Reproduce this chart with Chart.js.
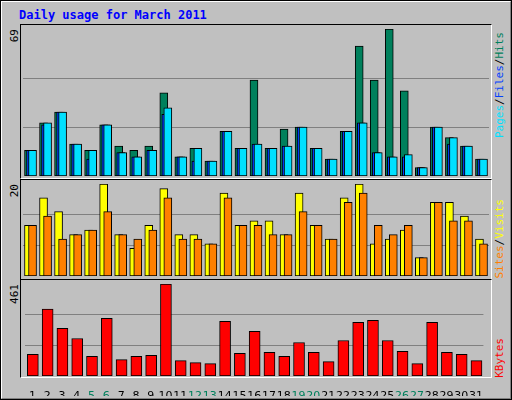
<!DOCTYPE html>
<html><head><meta charset="utf-8">
<script src="https://cdn.jsdelivr.net/npm/chart.js@4/dist/chart.umd.min.js"></script>
<style>
body{margin:0;width:512px;height:400px;background:#c0c0c0;position:relative;overflow:hidden;font-family:"DejaVu Sans Mono",monospace;}
#frame{position:absolute;left:0;top:0;width:508px;height:396px;border-top:2px solid #fff;border-left:2px solid #fff;border-right:2px solid #808080;border-bottom:2px solid #808080;box-sizing:content-box;outline:1px solid #000;outline-offset:-1px}
.panel{position:absolute;left:20px;width:470px;border-top:1px solid #000;border-left:1px solid #000;border-right:1px solid #fff;border-bottom:1px solid #fff;}
.box{position:absolute;}
.vt{position:absolute;writing-mode:vertical-rl;transform:rotate(180deg);font-size:11px;white-space:nowrap;line-height:11px}
#title{position:absolute;left:19px;top:8px;color:#0000ff;font-weight:bold;font-size:12px}
</style></head><body>
<div id="frame"></div>
<div id="title">Daily usage for March 2011</div>
<div class="panel" style="top:24px;height:153px"></div>
<div class="panel" style="top:179px;height:99px"></div>
<div class="panel" style="top:279px;height:97px"></div>
<div class="box" style="left:23px;top:29px;width:466px;height:147px"><canvas id="c1"></canvas></div>
<div class="box" style="left:23px;top:184px;width:466px;height:92px"><canvas id="c2"></canvas></div>
<div class="box" style="left:23px;top:284px;width:466px;height:112px"><canvas id="c3"></canvas></div>
<div class="vt" style="left:9px;top:29px">69</div>
<div class="vt" style="left:9px;top:184px">20</div>
<div class="vt" style="left:9px;top:284px">461</div>
<div class="vt" style="left:494px;bottom:262px"><span style="color:#00e0ff">Pages</span>/<span style="color:#0040ff">Files</span>/<span style="color:#00805c">Hits</span></div>
<div class="vt" style="left:494px;bottom:122px"><span style="color:#ff8000">Sites</span>/<span style="color:#ffff00">Visits</span></div>
<div class="vt" style="left:494px;bottom:22px"><span style="color:#ff0000">KBytes</span></div>
<script>
const days=[1,2,3,4,5,6,7,8,9,10,11,12,13,14,15,16,17,18,19,20,21,22,23,24,25,26,27,28,29,30,31];
const weekendDays=[5,6,12,13,19,20,26,27];
const hits=[12,25,30,15,12,24,14,12,14,39,9,13,7,21,13,45,13,22,23,13,8,21,61,45,69,40,4,23,18,14,8];
const files=[12,24,30,15,8,24,11,9,12,29,9,7,7,21,13,15,13,14,23,13,8,21,25,11,9,9,4,23,15,14,8];
const pages=[12,25,30,15,12,24,11,9,12,32,9,13,7,21,13,15,13,14,23,13,8,21,25,11,9,10,4,23,18,14,8];
const visits=[11,17,14,9,10,20,9,6,11,19,9,9,7,18,11,12,12,9,18,11,8,17,20,7,8,10,4,16,16,13,8];
const sites=[11,13,8,9,10,14,9,8,10,17,8,8,7,17,11,11,9,9,14,11,8,16,18,11,9,11,4,16,12,12,7];
const kbytes=[108,335,239,188,98,289,82,98,103,461,77,67,62,274,113,224,118,98,168,118,72,178,269,279,178,123,62,269,118,108,77];
const maxHits=69, maxVisits=20, maxKB=461;

Chart.defaults.animation=false;
Chart.defaults.font.family="DejaVu Sans";
const pts=(arr,off)=>arr.map((v,i)=>({x:days[i]+off,y:v}));
const ds=(label,arr,off,color,th,order)=>({label,data:pts(arr,off),backgroundColor:color,borderColor:'#000',borderWidth:1,barThickness:th,grouped:false,borderSkipped:false,order});
const yScale=(max)=>({min:0,max:max,display:true,border:{display:false},ticks:{display:false},
  grid:{color:'#808080',lineWidth:1,drawTicks:false},
  afterBuildTicks:s=>{s.ticks=[{value:max/3},{value:2*max/3}];},afterFit:s=>{s.width=0;}});
const xHidden={type:'linear',min:0.5,max:31.5,offset:false,display:false};
const base=(datasets,max,x)=>({type:'bar',data:{datasets},options:{responsive:true,maintainAspectRatio:false,
  layout:{padding:0},plugins:{legend:{display:false},tooltip:{enabled:false}},
  scales:{x:x,y:yScale(max)}}});
const px=0.134;
new Chart(document.getElementById('c1'),base([
  ds('Hits',hits,-px,'#00805c',8,3),ds('Files',files,0,'#0040ff',8,2),ds('Pages',pages,px,'#00e0ff',8,1)],maxHits,xHidden));
new Chart(document.getElementById('c2'),base([
  ds('Visits',visits,-px,'#ffff00',8,2),ds('Sites',sites,px,'#ff8000',8,1)],maxVisits,xHidden));
new Chart(document.getElementById('c3'),base([ds('KBytes',kbytes,0.03,'#ff0000',11,1)],maxKB,
  {type:'linear',min:0.5,max:31.5,offset:false,border:{display:false},grid:{display:false},
   afterBuildTicks:s=>{s.ticks=days.map(d=>({value:d}));},afterFit:s=>{s.height=20;},
   ticks:{padding:6,maxRotation:0,autoSkip:false,font:{size:11},
     color:c=>weekendDays.includes(c.tick&&c.tick.value)?'#00805c':'#000',callback:v=>String(v)}}));
</script>
</body></html>
